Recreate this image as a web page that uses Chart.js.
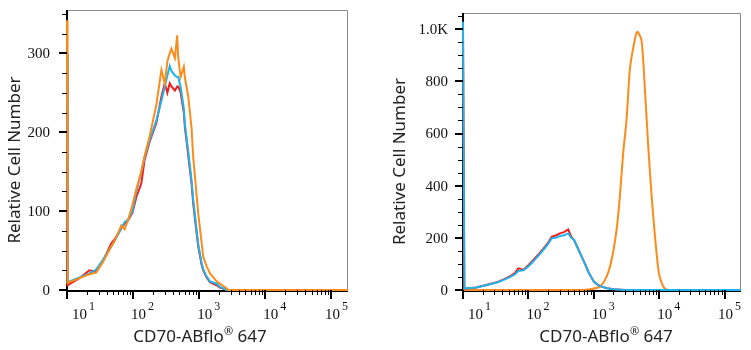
<!DOCTYPE html>
<html>
<head>
<meta charset="utf-8">
<script src="https://cdn.jsdelivr.net/npm/chart.js@4"></script>
<style>
    html, body { margin: 0; padding: 0; background: #fff; }
    #wrap { position: relative; width: 751px; height: 350px; overflow: hidden; }
    canvas { position: absolute; top: 0; }
    #left { left: 0; }
    #right { left: 376px; }
</style>
</head>
<body>
<div id="wrap">
    <canvas id="left" width="375" height="350"></canvas>
    <canvas id="right" width="375" height="350"></canvas>
</div>
<script>
// ---- left panel: fluorescence channel and counts ----
const leftFL = [10, 10.2, 15.4, 21.8, 27.6, 34.7, 46.6, 52.4, 66.2, 74.2, 83.4, 98, 112, 133, 149, 178, 225, 268, 301, 330, 358, 380, 429, 464, 481, 522, 585, 606, 683, 766, 810, 913, 966, 1087, 1150, 1295, 1455, 1837, 2063, 2616, 2770, 5000, 178000];
const leftRed = [300, 6, 15, 25, 23, 36, 59, 64, 78, 84, 88, 98, 118, 135, 165, 188, 212, 245, 262, 250, 262, 258, 253, 258, 258, 251, 225, 207, 170, 135, 110, 72, 55, 32, 25, 16, 10, 6, 3, 0, 0, 0, 0];
const leftBlue = [300, 10, 16, 21, 26, 38, 55, 62, 78, 86, 89, 100, 125, 150, 168, 190, 215, 240, 258, 272, 284, 278, 272, 270, 270, 258, 230, 211, 175, 139, 115, 76, 58, 34, 26, 17, 11, 8, 4, 0, 0, 0, 0];
const leftOrange = [342, 9, 15, 20, 22, 35, 55, 62, 82, 77, 88, 108, 128, 150, 170, 195, 235, 279, 262, 290, 300, 306, 294, 323, 295, 270, 283, 270, 245, 205, 169, 120, 97, 60, 42, 30, 21, 11, 8, 2, 0, 0, 0];

// ---- right panel ----
const rightFL = [10, 10.5, 16, 26, 34, 42, 52, 62, 70, 78, 84, 100, 119, 145, 180, 205, 227, 260, 304, 350, 407, 450, 498, 570, 652, 740, 822, 1000, 1150, 1315, 1600, 1977, 3000, 10000, 178000];
const rightRed = [1000, 5, 10, 23, 31, 41, 52, 65, 83, 80, 78, 95, 115, 138, 166, 185, 204, 209, 217, 222, 232, 205, 192, 160, 128, 98, 70, 32, 20, 13, 7, 3, 0, 0, 0];
const rightBlue = [1028, 6, 10, 22, 30, 39, 49, 60, 73, 75, 76, 90, 110, 134, 162, 180, 198, 200, 207, 210, 217, 200, 192, 160, 128, 98, 70, 32, 20, 13, 7, 3, 0, 0, 0];
const rightOrangeFL = [10, 680, 873, 1239, 1567, 1867, 2226, 2500, 2808, 3160, 3550, 3900, 4590, 5355, 6010, 6750, 7600, 8530, 9590, 10170, 11830, 14100, 178000];
const rightOrange = [0, 0, 3, 13, 51, 115, 230, 357, 524, 651, 843, 913, 990, 958, 779, 562, 370, 217, 89, 51, 9, 0, 0];

// ---- axes ----
const xDecades = [10, 100, 1000, 10000, 100000];
const xExponents = ['1', '2', '3', '4', '5'];
const leftYTicks = [0, 100, 200, 300];
const leftYLabels = ['0', '100', '200', '300'];
const rightYTicks = [0, 200, 400, 600, 800, 1000];
const rightYLabels = ['0', '200', '400', '600', '800', '1.0K'];

const xTitle = 'CD70-ABflo';
const xTitleTail = ' 647';
const yTitle = 'Relative Cell Number';

const RED = '#f21d1d', BLUE = '#1cb4ee', ORANGE = '#fb8c1c';

function pts(xs, ys) {
    return xs.map((x, i) => ({ x: x, y: ys[i] }));
}

function line(xs, ys, color, order, tension) {
    return {
        data: pts(xs, ys), borderColor: color, borderWidth: 2, pointRadius: 0,
        tension: tension || 0, order: order, clip: 3, fill: false
    };
}

// axis frame, ticks and labels drawn from the chart's own scales
function axesPlugin(o) {
    return {
        id: 'flowAxes',
        beforeDatasetsDraw(chart) {
            const ctx = chart.ctx, a = chart.chartArea;
            ctx.save();
            ctx.strokeStyle = '#8a8a8a';
            ctx.lineWidth = 1;
            ctx.beginPath();
            ctx.moveTo(a.left, a.top + 0.5);
            ctx.lineTo(a.right - 0.5, a.top + 0.5);
            ctx.lineTo(a.right - 0.5, a.bottom);
            ctx.stroke();
            ctx.strokeStyle = '#000';
            ctx.lineWidth = 2;
            ctx.beginPath();
            ctx.moveTo(a.left, a.top);
            ctx.lineTo(a.left, a.bottom + 1);
            ctx.lineTo(a.right, a.bottom + 1);
            ctx.stroke();
            ctx.restore();
        },
        afterDraw(chart) {
            const ctx = chart.ctx, a = chart.chartArea;
            const xs = chart.scales.x, ys = chart.scales.y;
            ctx.save();
            ctx.strokeStyle = '#000';

            // x ticks
            xDecades.forEach(d => {
                for (let m = 1; m <= 9; m++) {
                    const v = d * m;
                    if (v > xs.max) break;
                    const px = Math.round(xs.getPixelForValue(v));
                    ctx.lineWidth = m === 1 ? 2 : 1;
                    ctx.beginPath();
                    ctx.moveTo(px + (m === 1 ? 0 : 0.5), a.bottom);
                    ctx.lineTo(px + (m === 1 ? 0 : 0.5), a.bottom + (m === 1 ? 9 : 5));
                    ctx.stroke();
                }
            });

            // y ticks
            for (let v = 0; v <= ys.max; v += o.yMinor) {
                const py = Math.round(ys.getPixelForValue(v));
                const major = o.yTicks.includes(v);
                ctx.lineWidth = major ? 2 : 1;
                ctx.beginPath();
                ctx.moveTo(a.left, py + (major ? 0 : 0.5));
                ctx.lineTo(a.left - (major ? 8 : 5), py + (major ? 0 : 0.5));
                ctx.stroke();
            }

            ctx.fillStyle = '#111';
            // y labels
            ctx.font = '15px "Liberation Serif"';
            ctx.textAlign = 'right';
            ctx.textBaseline = 'middle';
            o.yTicks.forEach((v, i) => {
                ctx.fillText(o.yLabels[i], a.left - o.labelGap, ys.getPixelForValue(v) + 1);
            });

            // x labels 10^n
            ctx.textAlign = 'left';
            ctx.textBaseline = 'alphabetic';
            xDecades.forEach((d, i) => {
                ctx.font = '15px "Liberation Serif"';
                const wb = ctx.measureText('10').width;
                ctx.font = '12px "Liberation Serif"';
                const ws = ctx.measureText(xExponents[i]).width;
                const total = wb + 2 + ws;
                let sx = xs.getPixelForValue(d) - 2;
                if (sx < a.left + 5) sx = a.left + 5;
                if (sx + total > a.right) sx = a.right - total;
                ctx.font = '15px "Liberation Serif"';
                ctx.fillText('10', sx, a.bottom + 29);
                ctx.font = '12px "Liberation Serif"';
                ctx.fillText(xExponents[i], sx + wb + 2, a.bottom + 20);
            });

            // x title with raised ®
            ctx.fillStyle = '#222';
            ctx.font = '17px "Noto Sans"';
            const w1 = ctx.measureText(xTitle).width;
            const w3 = ctx.measureText(xTitleTail).width;
            ctx.font = '11px "Noto Sans"';
            const w2 = ctx.measureText('®').width;
            let tx = o.xTitleX - (w1 + w2 + w3) / 2;
            ctx.font = '17px "Noto Sans"';
            ctx.fillText(xTitle, tx, 342);
            ctx.font = '11px "Noto Sans"';
            ctx.fillText('®', tx + w1, 335);
            ctx.font = '17px "Noto Sans"';
            ctx.fillText(xTitleTail, tx + w1 + w2, 342);

            // y title
            ctx.save();
            ctx.translate(o.yTitleX, (a.top + a.bottom) / 2 + 10);
            ctx.rotate(-Math.PI / 2);
            ctx.textAlign = 'center';
            ctx.textBaseline = 'middle';
            ctx.fillText(yTitle, 0, 0);
            ctx.restore();

            ctx.restore();
        }
    };
}

function makeChart(id, datasets, o) {
    return new Chart(document.getElementById(id), {
        type: 'line',
        data: { datasets: datasets },
        options: {
            responsive: false,
            animation: false,
            devicePixelRatio: 1,
            layout: { padding: o.padding },
            plugins: { legend: { display: false }, tooltip: { enabled: false } },
            scales: {
                x: { type: 'logarithmic', min: 10, max: 178000, display: false },
                y: { type: 'linear', min: 0, max: o.yMax, display: false }
            }
        },
        plugins: [axesPlugin(o)]
    });
}

makeChart('left', [
    line(leftFL, leftOrange, ORANGE, 0),
    line(leftFL, leftBlue, BLUE, 1),
    line(leftFL, leftRed, RED, 2)
], {
    padding: { left: 67, right: 27, top: 10, bottom: 60 },
    yMax: 355, yMinor: 25, yTicks: leftYTicks, yLabels: leftYLabels,
    labelGap: 17, xTitleX: 200, yTitleX: 15
});

makeChart('right', [
    line(rightFL, rightBlue, BLUE, 0),
    line(rightFL, rightRed, RED, 1),
    line(rightOrangeFL, rightOrange, ORANGE, 2, 0.25)
], {
    padding: { left: 87, right: 10, top: 13, bottom: 60 },
    yMax: 1062, yMinor: 50, yTicks: rightYTicks, yLabels: rightYLabels,
    labelGap: 15, xTitleX: 230, yTitleX: 24
});
</script>
</body>
</html>
